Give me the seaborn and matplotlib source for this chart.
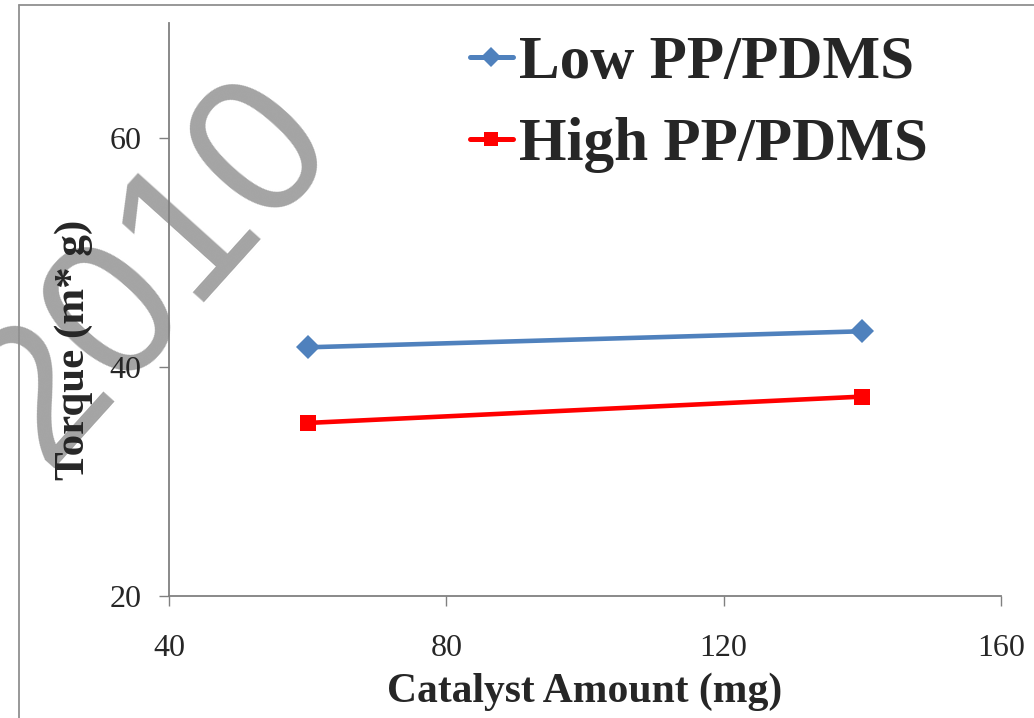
import matplotlib
matplotlib.use("Agg")
import matplotlib.pyplot as plt
import seaborn as sns
import pandas as pd
from matplotlib.lines import Line2D

# Data
catalyst = [60, 140]
low_pp_pdms = [41.7, 43.1]
high_pp_pdms = [35.1, 37.4]
series_names = ["Low PP/PDMS", "High PP/PDMS"]
x_ticks = [40, 80, 120, 160]
y_ticks = [20, 40, 60]

df = pd.DataFrame({
    "Catalyst": catalyst * 2,
    "Torque": low_pp_pdms + high_pp_pdms,
    "Series": [series_names[0]] * len(catalyst) + [series_names[1]] * len(catalyst),
})

sns.set_style("white")
plt.rcParams["font.family"] = ["Liberation Serif", "DejaVu Serif"]

fig = plt.figure(figsize=(10.34, 7.18), dpi=100)
ax = fig.add_axes([169/1034, 1-596/718, 832/1034, 573/718])
ax.set_zorder(2)
ax.patch.set_alpha(0)

# watermark
fig.text(154/1034, 1-272/718, "2010", rotation=48, fontsize=142,
         family=["Liberation Sans", "DejaVu Sans"], color="#9a9a9a", alpha=0.9,
         ha="center", va="center", zorder=0)

palette = {series_names[0]: "#4F81BD", series_names[1]: "#FF0000"}
markers = {series_names[0]: "D", series_names[1]: "s"}
sns.lineplot(data=df, x="Catalyst", y="Torque", hue="Series", style="Series",
             palette=palette, markers=markers, dashes=False, markersize=12,
             linewidth=3.3, markeredgewidth=0, ax=ax, legend=False, zorder=3)

ax.set_xlim(40, 160)
ax.set_ylim(20, 70)
ax.set_xticks(x_ticks)
ax.set_yticks(y_ticks)
ax.tick_params(axis="both", direction="out", length=7, width=1, color="#808080",
               labelsize=23, left=True, bottom=True, pad=13)
ax.tick_params(axis="x", pad=20)
for s in ["top", "right"]:
    ax.spines[s].set_visible(False)
for s in ["left", "bottom"]:
    ax.spines[s].set_color("#808080")
    ax.spines[s].set_linewidth(1.3)

ax.set_xlabel("Catalyst Amount (mg)", fontsize=30, fontweight="bold")
ax.set_ylabel("Torque (m* g)", fontsize=31, fontweight="bold")
ax.xaxis.set_label_coords(0.5, -0.134)
ax.yaxis.set_label_coords(-0.091, 0.43)

handles = [Line2D([], [], color=palette[n], marker=markers[n], markersize=10,
                  markeredgewidth=0, linewidth=3.6) for n in series_names]
leg = ax.legend(handles, series_names, loc="upper left",
                bbox_to_anchor=(470/1034, 1-35/718), bbox_transform=fig.transFigure,
                frameon=False, handlelength=0.7, handletextpad=0.1,
                labelspacing=0.43, borderpad=0, borderaxespad=0,
                prop={"family": "Liberation Serif", "weight": "bold", "size": 44})

# outer chart-area frame (top and left visible)
fig.add_artist(Line2D([19/1034, 19/1034], [0, 1-5/718], transform=fig.transFigure,
                      color="#909090", linewidth=1.3))
fig.add_artist(Line2D([19/1034, 1], [1-5/718, 1-5/718], transform=fig.transFigure,
                      color="#909090", linewidth=1.3))

fig.savefig("out.png", dpi=100)
